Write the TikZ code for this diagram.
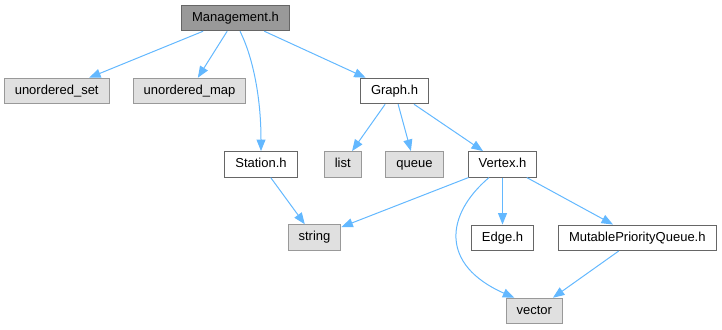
\documentclass[tikz,border=0pt]{standalone}
\usepackage{fontspec}
\setmainfont{Liberation Sans}
\usetikzlibrary{arrows.meta}
\definecolor{incRoot}{HTML}{999999}
\definecolor{incRootLine}{HTML}{666666}
\definecolor{incSys}{HTML}{E0E0E0}
\definecolor{incSysLine}{HTML}{999999}
\definecolor{incEdge}{HTML}{63B8FF}

\tikzset{
  hbox/.style={draw=incRootLine,fill=white,line width=1pt,inner xsep=10.5pt,inner ysep=0pt,
    minimum height=25.5pt,text height=9.5pt,text depth=2.8pt,font=\fontsize{13}{15}\selectfont},
  rootbox/.style={hbox,fill=incRoot},
  sysbox/.style={hbox,draw=incSysLine,fill=incSys},
  inc/.style={draw=incEdge,line width=1pt,-{Triangle[length=11.5pt,width=9pt]}}
}

\begin{document}
\begin{tikzpicture}[x=1pt,y=-1pt]
  \useasboundingbox (0,0) rectangle (722,329);
  \node[rootbox] (mgmt) at (235.5,18.0) {Management.h};
  \node[sysbox] (uset) at (56.7,91.0) {unordered\_set};
  \node[sysbox] (umap) at (189.5,91.0) {unordered\_map};
  \node[hbox] (graph) at (394.5,91.0) {Graph.h};
  \node[hbox] (station) at (261.0,164.3) {Station.h};
  \node[sysbox] (list) at (342.7,164.3) {list};
  \node[sysbox] (queue) at (414.5,164.3) {queue};
  \node[hbox] (vertex) at (502.5,164.3) {Vertex.h};
  \node[sysbox] (string) at (314.5,237.5) {string};
  \node[hbox] (edge) at (502.5,237.8) {Edge.h};
  \node[hbox] (mpq) at (637.3,237.8) {MutablePriorityQueue.h};
  \node[sysbox] (vector) at (534.3,311.0) {vector};

  \draw[inc] (mgmt) -- (uset);
  \draw[inc] (mgmt) -- (umap);
  \draw[inc] ([xshift=4.5pt]mgmt.south) .. controls (252,55) and (261,95) .. (station.north);
  \draw[inc] (mgmt) -- (graph);
  \draw[inc] (graph) -- (list);
  \draw[inc] (graph) -- (queue);
  \draw[inc] (graph) -- (vertex);
  \draw[inc] (station) -- (string);
  \draw[inc] (vertex) -- (string);
  \draw[inc] ([xshift=-13.5pt]vertex.south) .. controls (445,215) and (440,265) .. ([xshift=-20pt]vector.north);
  \draw[inc] (vertex) -- (edge);
  \draw[inc] (vertex) -- (mpq);
  \draw[inc] (mpq) -- (vector);
\end{tikzpicture}
\end{document}
